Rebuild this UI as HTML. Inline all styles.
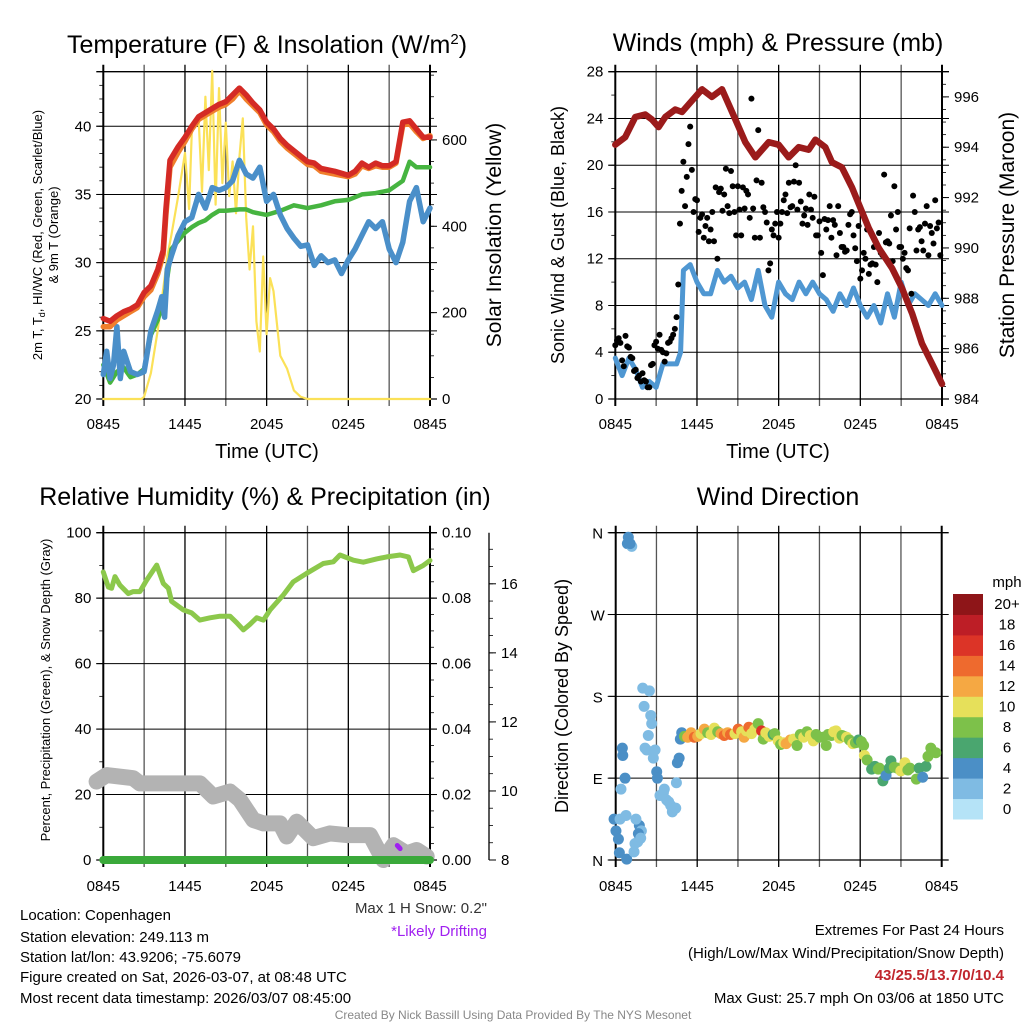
<!DOCTYPE html>
<html><head><meta charset="utf-8">
<style>
html,body{margin:0;padding:0;background:#fff;}
svg{display:block;font-family:"Liberation Sans",Arial,sans-serif;}
</style></head>
<body>
<svg id="root" width="1024" height="1024" viewBox="0 0 1024 1024" xmlns="http://www.w3.org/2000/svg">
<rect width="1024" height="1024" fill="#fff"/>
<text x="267" y="53" font-size="25" text-anchor="middle">Temperature (F) &amp; Insolation (W/m<tspan dy="-9" font-size="15">2</tspan><tspan dy="9">)</tspan></text>
<text x="778" y="51" font-size="25" text-anchor="middle">Winds (mph) &amp; Pressure (mb)</text>
<text x="265" y="505" font-size="25" text-anchor="middle">Relative Humidity (%) &amp; Precipitation (in)</text>
<text x="778" y="505" font-size="25" text-anchor="middle">Wind Direction</text>

<text transform="translate(42,235) rotate(-90)" font-size="13" text-anchor="middle">2m T, T<tspan dy="3" font-size="9">d</tspan><tspan dy="-3">, HI/WC (Red, Green, Scarlet/Blue)</tspan></text>
<text transform="translate(58,235) rotate(-90)" font-size="13" text-anchor="middle">&amp; 9m T (Orange)</text>
<text transform="translate(501,235) rotate(-90)" font-size="21" text-anchor="middle">Solar Insolation (Yellow)</text>
<text transform="translate(564,235) rotate(-90)" font-size="18" text-anchor="middle">Sonic Wind &amp; Gust (Blue, Black)</text>
<text transform="translate(1014,235) rotate(-90)" font-size="21" text-anchor="middle">Station Pressure (Maroon)</text>
<text transform="translate(50,690) rotate(-90)" font-size="13" text-anchor="middle">Percent, Precipitation (Green), &amp; Snow Depth (Gray)</text>
<text transform="translate(568,696) rotate(-90)" font-size="18" text-anchor="middle">Direction (Colored By Speed)</text>
<text x="267" y="458" font-size="20" text-anchor="middle">Time (UTC)</text>
<text x="778" y="458" font-size="20" text-anchor="middle">Time (UTC)</text>

<g font-size="15">
<text x="20" y="920">Location: Copenhagen</text>
<text x="20" y="942">Station elevation: 249.113 m</text>
<text x="20" y="962">Station lat/lon: 43.9206; -75.6079</text>
<text x="20" y="982">Figure created on Sat, 2026-03-07, at 08:48 UTC</text>
<text x="20" y="1003">Most recent data timestamp: 2026/03/07 08:45:00</text>
</g>
<text x="487" y="913" font-size="15" text-anchor="end" fill="#333">Max 1 H Snow: 0.2"</text>
<text x="487" y="936" font-size="15" text-anchor="end" fill="#a020f0">*Likely Drifting</text>
<g font-size="15" text-anchor="end">
<text x="1004" y="935">Extremes For Past 24 Hours</text>
<text x="1004" y="958">(High/Low/Max Wind/Precipitation/Snow Depth)</text>
<text x="1004" y="980" fill="#c0262d" font-weight="bold">43/25.5/13.7/0/10.4</text>
<text x="1004" y="1003">Max Gust: 25.7 mph On 03/06 at 1850 UTC</text>
</g>
<text x="513" y="1019" font-size="12" text-anchor="middle" fill="#888">Created By Nick Bassill Using Data Provided By The NYS Mesonet</text>
<g id="plots"></g>
</svg>
<script>
// ---------- data ----------
const xTickLabels = ["0845","1445","2045","0245","0845"];
const tempHours = [0,0.5,1,1.5,2,2.5,3,3.5,4,4.4,4.6,4.9,5.5,6,6.5,7,7.5,8,8.5,9,9.5,10,10.5,11,11.5,12,12.5,13,13.5,14,15,15.5,16,17,18,18.5,19,19.5,20,20.5,21,21.5,22,22.5,23,23.5,24];
const tempRed = [25.9,25.7,26.1,26.4,26.6,26.9,27.8,28.3,29.5,30.9,33.9,37.5,38.5,39.2,40.0,40.7,41.0,41.3,41.6,41.8,42.3,42.8,42.3,41.7,41.2,40.3,39.8,39.1,38.6,38.2,37.4,37.3,36.9,36.7,36.4,36.7,37.3,37.0,37.3,37.1,37.1,37.4,40.3,40.4,39.8,39.2,39.2];
const tempOrange = [25.3,25.3,25.8,26.1,26.4,26.7,27.5,28.0,29.2,30.6,33.5,37.0,38.1,38.9,39.8,40.5,40.8,41.1,41.4,41.6,42.0,42.6,42.0,41.5,41.0,40.1,39.6,38.9,38.4,38.0,37.2,37.1,36.7,36.5,36.3,36.5,37.1,36.9,37.1,37.0,37.0,37.3,40.1,40.2,39.6,39.1,39.3];
const dewHours = [0,0.5,1,1.5,2,2.5,3,3.5,4,4.5,5,5.5,6,6.5,7,7.5,8,8.5,9,10,10.5,11,12,13,14,15,16,17,18,19,20,21,22,22.5,23,24];
const dewGreen = [22.5,21.2,22.0,22.3,21.6,21.8,22.2,24.7,25.8,27.5,31.0,31.6,32.2,32.6,32.9,33.1,33.5,33.8,33.8,33.9,33.9,33.7,33.5,33.8,34.2,34.0,34.2,34.5,34.6,35.0,35.1,35.3,36.0,37.4,37.0,37.0];
const wcHours = [0,0.25,0.5,0.75,1,1.25,1.5,2,2.5,3,3.5,4,4.3,4.5,4.7,5,5.5,6,6.5,7,7.5,8,8.5,9,9.5,10,10.5,11,11.5,12,12.5,13,13.5,14,14.5,15,15.5,16,16.5,17,17.5,18,18.5,19,19.5,20,20.5,21,21.5,22,22.5,23,23.5,24];
const wcBlue = [21.8,23.5,21.5,22.5,25.3,21.5,23.5,22.0,21.8,22.0,25.0,26.5,27.5,26.0,29.5,30.5,32.0,33.0,33.3,35.0,34.0,35.5,35.3,35.5,36.0,37.5,36.5,36.2,37.0,34.5,35.0,33.5,32.5,31.8,31.2,31.3,29.8,30.5,30.0,30.2,29.2,30.2,31.0,32.0,33.0,32.5,33.0,31.0,30.0,31.5,34.5,35.5,33.0,34.0];
const solarHours = [0,2.8,3,3.5,4,4.5,4.7,5,5.5,6,6.3,6.5,7,7.25,7.5,7.75,8,8.25,8.5,8.75,9,9.25,9.5,9.75,10,10.25,10.5,10.75,11,11.25,11.5,11.75,12,12.25,12.5,13,13.5,14,14.5,15,24];
const solarYellow = [0,0,5,60,160,280,330,380,470,570,440,620,650,480,700,530,760,450,720,500,640,470,550,430,560,650,420,300,400,180,110,330,150,280,250,100,70,20,5,0,0];

const windHours = [0,0.5,1,1.5,2,2.5,3,3.5,4,4.5,4.8,5,5.5,6,6.5,7,7.5,8,8.5,9,9.5,10,10.5,11,11.5,12,12.5,13,13.5,14,14.5,15,15.5,16,16.5,17,17.5,18,18.5,19,19.5,20,20.5,21,21.5,22,22.5,23,23.5,24];
const windSonic = [3.5,2,3.5,2.5,1,1.5,1.0,3,3,3,4,11,11.5,10,9,9,11,10,10.5,9.5,10,8.5,11,8,7,10,9,8.5,10,9,10,9,8.5,7.5,9,8,9.5,8,7,8,6.5,9,7,10,8,9,8.5,8,9,8];
const gustsA = [4.6,5.2,3.3,5.4,4.4,3.5,2.5,2.0,2.2,1.5,1.0,3.0,4.9,5.5,4.0,3.9,4.9,5.5,7.0,15.0,20.3,19.0,23.3,16.0,17.0,15.5,13.8,15.5,14.5,13.5,12.0,18.0,17.5,16.5,19.5,16.0,18.2,14.0,16.3,17.5,25.7,13.8,23.0,18.5,16.0,11.0,14.5,15.0,13.8,16.0,17.5,18.5,16.5,20.0,18.5,15.0,16.3,17.5,15.5,14.0,15.2,10.6,14.5,16.5,15.3,12.3,14.2,13.0,12.7,15.8,14.0,11.8,10.3,12.5,14.5,11.5,13.0,10.0,12.5,19.2,13.5,15.7,18.2,16.0,13.0,12.5,11.0,9.0,16.0,14.5,13.5,15.0,12.3,14.2,17.0,15.1];
const gustsB = [5.0,4.8,2.8,4.5,3.6,2.4,1.8,1.5,1.6,1.0,2.9,4.6,4.3,4.2,3.2,4.8,5.2,6.0,9.8,17.8,16.5,21.8,19.6,17.1,14.3,15.8,14.8,13.5,16.0,18.1,17.7,16.1,19.7,15.9,18.2,14.0,16.2,18.1,17.8,15.5,16.3,18.7,13.8,16.4,15.1,11.6,14.0,16.0,15.0,17.0,15.9,16.4,18.6,16.2,16.9,15.7,14.9,16.2,17.3,14.0,12.5,15.4,15.3,13.8,14.9,16.5,13.0,12.6,14.9,16.0,12.9,14.8,11.0,12.0,10.7,11.6,11.5,14.2,12.3,13.4,13.3,11.8,14.5,13.0,12.0,11.2,14.6,17.4,12.7,14.7,12.7,16.5,14.8,13.3,14.6,12.3];
const presHours = [0,0.73,1.47,2.2,2.69,3.18,3.67,4.41,4.9,5.39,6.37,7.1,7.84,8.82,9.55,10.29,11.27,12.0,12.74,13.47,14.21,14.7,15.43,15.92,16.65,17.39,18.0,18.61,19.35,20.33,21.06,21.8,22.53,23.27,24];
const presMaroon = [994.1,994.4,995.2,995.3,995.1,994.8,995.2,995.5,995.4,995.7,996.3,996.0,996.3,995.1,994.2,993.6,994.2,994.1,993.6,994.0,993.9,994.3,994.0,993.4,993.2,992.4,991.6,990.8,990.0,989.2,988.4,987.4,986.2,985.4,984.6];

const rhHours = [0,0.37,0.61,0.86,1.22,1.84,2.2,2.69,3.18,3.92,4.41,4.78,5.02,5.88,6.49,7.1,7.84,8.57,9.31,9.8,10.29,10.78,11.27,11.76,12.25,13.23,13.96,14.94,16.16,16.9,17.39,18.37,19.1,20.08,20.82,21.8,22.41,22.78,23.51,24];
const rhGreen = [88,83.4,83,86.6,84,81.4,82,82,85.5,90.1,84.5,83,79,76.4,75.5,73.3,74,74.5,74.5,72.5,70.3,72,74,73.3,76.4,81,85,87.6,90.6,91.1,93.2,91.6,91,92,92.6,93.2,92.6,88.4,90,91.5];
const precipHours = [0,24];
const precipValues = [0,0];
const snowHours = [-0.49,0.24,2.2,2.69,7.1,8.08,9.31,10.04,11.02,11.76,12.98,13.47,14.21,15.43,16.65,17.88,19.6,20.57,21.31,22.29,23.02,23.76];
const snowGray = [10.27,10.46,10.37,10.22,10.22,9.84,9.98,9.74,9.16,9.06,9.06,8.68,9.11,8.63,8.77,8.72,8.72,8.0,8.43,8.19,8.29,8.1];
const driftHours = [21.6,21.8];
const driftValues = [8.42,8.33];

const dirHours = [0.93,0.86,1.18,1.06,-0.12,0.32,0.02,0.2,0.27,0.81,1.35,1.42,1.62,1.74,1.49,1.89,1.67,1.84,0.76,0.39,0.69,0.52,0.49,1.99,2.48,2.09,2.58,2.65,2.4,2.16,2.28,2.77,2.9,3.02,3.07,3.26,3.51,3.58,3.75,3.9,4.05,4.17,4.42,4.47,4.54,4.67,4.76,4.86,5.06,5.3,5.55,5.79,6.04,6.28,6.53,6.77,7.02,7.26,7.51,7.75,7.99,8.24,8.45,8.78,9.02,9.27,9.45,9.62,9.8,10.0,10.24,10.49,10.74,10.86,11.05,11.3,11.59,11.71,11.96,12.14,12.38,12.55,12.85,13.1,13.35,13.59,13.84,14.08,14.33,14.55,14.65,14.76,15.01,15.25,15.5,15.63,15.88,16.05,16.22,16.47,16.66,16.81,17.0,17.21,17.45,17.65,17.88,18.09,18.25,18.31,18.51,18.84,19.08,19.33,19.41,19.67,19.9,20.14,20.26,20.51,20.75,20.99,21.29,21.51,21.66,22.13,22.34,22.6,22.84,22.99,23.2,23.57];
const dirDegrees = [355,348,345,348,45,45,32,23,8,1,9,18,20,38,45,32,29,24,49,78,90,115,123,189,186,169,159,150,137,123,121,112,121,97,90,71,74,78,66,64,60,53,57,85,107,112,133,140,136,135,140,135,136,139,144,140,138,145,141,139,137,140,138,139,144,141,135,142,146,139,144,150,142,133,140,136,138,139,131,127,129,128,132,133,126,138,135,141,137,131,133,138,135,135,126,138,137,141,142,134,137,136,135,132,128,129,132,130,126,115,110,100,103,100,101,87,93,101,109,102,101,98,107,99,101,89,101,91,103,114,123,118,98,106,102,108,119,112,110,119,117,119,118,115,114,102,99,104,108,110,103,115,117,112,118,116,117];
const dirSpeeds = [4,4,2,3,4,1,4,3,3,3,1,1,2,3,1,1,3,1,1,1,3,3,3,1,1,1,1,1,2,1,1,1,1,3,3,2,2,2,2,2,2,2,2,2,3,4,4,4,7,12,12,13,11,10,11,8,10,10,7,11,13,12,13,10,13,10,11,10,13,10,9,7,16,8,10,9,6,8,10,7,10,11,12,10,8,8,10,7,10,10,9,8,8,7,8,8,7,9,10,9,8,7,10,8,10,8,6,8,7,10,8,6,6,7,8,6,4,6,6,8,7,10,10,8,8,7,6,4,6,8,7,8,8,10,6];

const colorbarLabels = ["0","2","4","6","8","10","12","14","16","18","20+"];
const colorbarColors = ["#b5e3f7","#7fbbe3","#4b8fc6","#4aa66f","#7dc14a","#e6e05a","#f5a843","#ee6a2e","#dc3427","#bd1e26","#8e1518"];

// ---------- helpers ----------
const NS = "http://www.w3.org/2000/svg";
const plots = document.getElementById("plots");
function add(parent, tag, attrs, text){
  const el = document.createElementNS(NS, tag);
  for (const k in attrs) el.setAttribute(k, attrs[k]);
  if (text !== undefined) el.textContent = text;
  parent.appendChild(el);
  return el;
}
function scale(d0,d1,r0,r1){ return v => r0 + (v-d0)*(r1-r0)/(d1-d0); }
function group(name){
  const g = add(plots, "g", {});
  
  
  return g;
}

function frame(g, X0, X1, Y0, Y1, hLines, xLabelsY){
  const xs = scale(0,24,X0,X1);
  for (let h=3; h<24; h+=3){
    const l = add(g,"line",{x1:xs(h),x2:xs(h),y1:Y0-7,y2:Y1+7,stroke:(h%6===0?"#000":"#555"),"stroke-width":1.3});
    
    
  }
  hLines.forEach(y=>{
    const l = add(g,"line",{x1:X0-7,x2:X1+7,y1:y,y2:y,stroke:"#000","stroke-width":1});
    
    
  });
  [Y0,Y1].forEach(y=>{ const l=add(g,"line",{x1:X0-7,x2:X1+7,y1:y,y2:y,stroke:"#000","stroke-width":1.3});  });
  [X0,X1].forEach(x=>{ const l=add(g,"line",{x1:x,x2:x,y1:Y0-7,y2:Y1+7,stroke:"#000","stroke-width":2});  });
  if (xLabelsY) xTickLabels.forEach((t,i)=>{
    const tx = add(g,"text",{x:xs(i*6),y:xLabelsY,"font-size":15,"text-anchor":"middle"},t);
    
    
  });
  return xs;
}
function yAxis(g, x, side, ys, ticks, labels, minors, fs){
  const dir = side==="left"?-1:1;
  ticks.forEach((v,i)=>{
    add(g,"line",{x1:x,x2:x+dir*7,y1:ys(v),y2:ys(v),stroke:"#000","stroke-width":1});
    const t = add(g,"text",{x:x+dir*12,y:ys(v)+5,"font-size":fs||15,"text-anchor":side==="left"?"end":"start"},labels[i]);
    
    
  });
  minors.forEach(v=>add(g,"line",{x1:x,x2:x+dir*4,y1:ys(v),y2:ys(v),stroke:"#000","stroke-width":0.8}));
}
function line(g, xs, ys, hx, vy, color, w, name){
  const pts = hx.map((h,i)=>xs(h).toFixed(1)+","+ys(vy[i]).toFixed(1)).join(" ");
  const p = add(g,"polyline",{points:pts,fill:"none",stroke:color,"stroke-width":w,"stroke-linejoin":"round","stroke-linecap":"round"});
  
  
  return p;
}
function range(a,b,s){ const r=[]; for(let v=a; v<=b+1e-9; v+=s) r.push(+v.toFixed(4)); return r; }

// ---------- panel 1: temperature ----------
{
  const g = group("temperature-panel");
  const X0=103.3,X1=430,Y0=71.7,Y1=399;
  const yT = scale(20,44,Y1,Y0), yS = scale(0,758,Y1,Y0);
  const xs = frame(g,X0,X1,Y0,Y1,[25,30,35,40].map(yT),429);
  yAxis(g,X0,"left",yT,[20,25,30,35,40],["20","25","30","35","40"],range(20,44,1),15);
  yAxis(g,X1,"right",yS,[0,200,400,600],["0","200","400","600"],range(0,750,50),15);
  line(g,xs,yS,solarHours,solarYellow,"#fbe158",2.2,"solar-insolation-line");
  line(g,xs,yT,dewHours,dewGreen,"#46b440",4.5,"dewpoint-line");
  line(g,xs,yT,wcHours,wcBlue,"#4a8fc9",5.5,"wind-chill-line");
  line(g,xs,yT,tempHours,tempOrange,"#f07f2c",5.5,"temp-9m-line");
  line(g,xs,yT,tempHours,tempRed,"#d42a25",5.5,"temp-2m-line");
}
// ---------- panel 2: winds ----------
{
  const g = group("winds-panel");
  const X0=615.3,X1=942,Y0=71.7,Y1=399;
  const yW = scale(0,28,Y1,Y0), yP = scale(984,997,Y1,Y0);
  const xs = frame(g,X0,X1,Y0,Y1,[4,8,12,16,20,24].map(yW),429);
  yAxis(g,X0,"left",yW,[0,4,8,12,16,20,24,28],["0","4","8","12","16","20","24","28"],range(0,28,2),15);
  yAxis(g,X1,"right",yP,[984,986,988,990,992,994,996],["984","986","988","990","992","994","996"],range(984,997,0.5),15);
  line(g,xs,yW,windHours,windSonic,"#4f97d2",5,"sonic-wind-line");
  gustsA.forEach((v,i)=>{
    const c = add(g,"circle",{cx:xs(i*0.25),cy:yW(v),r:3,fill:"#000"});
    
    
  });
  gustsB.forEach((v,i)=>{
    const c = add(g,"circle",{cx:xs(i*0.25+0.125),cy:yW(v),r:3,fill:"#000"});
    
    
  });
  line(g,xs,yP,presHours,presMaroon,"#9b1b1b",6.5,"pressure-line");
}
// ---------- panel 3: humidity ----------
{
  const g = group("humidity-panel");
  const X0=103.3,X1=430,Y0=532.7,Y1=860;
  const yR = scale(0,100,Y1,Y0), yS = scale(8,17.48,Y1,Y0);
  const xs = frame(g,X0,X1,Y0,Y1,[20,40,60,80].map(yR),891);
  yAxis(g,X0,"left",yR,[0,20,40,60,80,100],["0","20","40","60","80","100"],range(0,100,10),15);
  yAxis(g,X1,"right",yR,[0,20,40,60,80,100],["0.00","0.02","0.04","0.06","0.08","0.10"],range(0,100,5),15);
  const ax = add(g,"line",{x1:489,x2:489,y1:Y0,y2:Y1,stroke:"#000","stroke-width":1.3});
  
  
  yAxis(g,489,"right",yS,[8,10,12,14,16],["8","10","12","14","16"],range(8,17,0.5),15);
  line(g,xs,yS,snowHours,snowGray,"#b3b3b3",16,"snow-depth-line");
  line(g,xs,yR,precipHours,precipValues,"#3aa93a",8,"precipitation-line");
  line(g,xs,yR,rhHours,rhGreen,"#8cc84b",5,"relative-humidity-line");
  line(g,xs,yS,driftHours,driftValues,"#a020f0",5,"drifting-marker");
}
// ---------- panel 4: direction ----------
{
  const g = group("direction-panel");
  const X0=615.7,X1=941.7,Y0=532.7,Y1=860;
  const yD = scale(0,360,Y1,Y0);
  const xs = frame(g,X0,X1,Y0,Y1,[90,180,270].map(yD),891);
  ["N","E","S","W","N"].forEach((t,i)=>{
    add(g,"line",{x1:X0,x2:X0-8,y1:yD(i*90),y2:yD(i*90),stroke:"#000"});
    const tx = add(g,"text",{x:X0-18,y:yD(i*90)+6,"font-size":15,"text-anchor":"middle"},t);
    
    
  });
  dirHours.forEach((h,i)=>{
    const idx = Math.min(10, Math.max(0, Math.round(dirSpeeds[i]/2)));
    const c = add(g,"circle",{cx:xs(h),cy:yD(dirDegrees[i]),r:5.5,fill:colorbarColors[idx]});
    
    
  });
  const cb = add(g,"g",{});
  
  
  const t = add(cb,"text",{x:1007,y:587,"font-size":15,"text-anchor":"middle"},"mph");
  
  
  const h = (819-594)/11;
  colorbarLabels.forEach((lab,i)=>{
    const y = 819 - (i+1)*h;
    const r = add(cb,"rect",{x:953,y:y,width:30,height:h+0.5,fill:colorbarColors[i]});
    
    
    const tl = add(cb,"text",{x:1007,y:y+h/2+5,"font-size":15,"text-anchor":"middle"},lab);
    
    
  });
}
</script>
</body></html>
